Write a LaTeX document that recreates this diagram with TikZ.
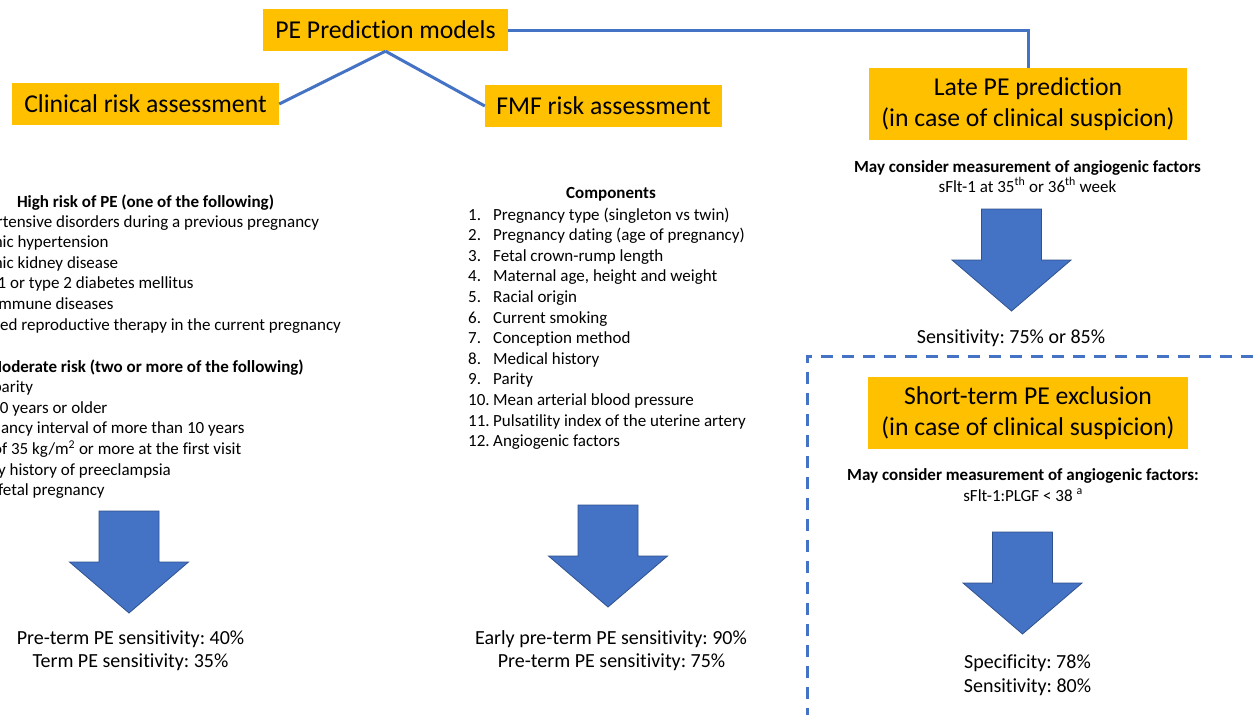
\documentclass[tikz,border=0pt]{standalone}
\usepackage{fontspec}
\setmainfont[Ligatures=NoCommon]{Carlito}
\frenchspacing
\definecolor{boxfill}{HTML}{FFC000}
\definecolor{lineblue}{HTML}{4472C4}
\definecolor{arrowedge}{HTML}{2F528F}
\tikzset{
  titlebox/.style={fill=boxfill, inner sep=0pt, font=\fontsize{25.7}{31}\selectfont, align=center},
  conn/.style={draw=lineblue, line width=3pt},
  body/.style={inner sep=0pt, anchor=base west, font=\fontsize{17}{20.6}\selectfont},
  bodyc/.style={inner sep=0pt, anchor=base, font=\fontsize{17}{20.6}\selectfont},
  head/.style={inner sep=0pt, anchor=base, font=\fontsize{17}{20.6}\selectfont\bfseries},
  result/.style={inner sep=0pt, anchor=base, font=\fontsize{20}{24}\selectfont},
  dashedframe/.style={draw=lineblue, line width=3pt, dash pattern=on 12pt off 9pt},
  blockarrow/.pic={\fill[lineblue, draw=arrowedge, line width=0.8pt]
     (-30,0) -- (30,0) -- (30,51) -- (59.5,51) -- (0,102) -- (-59.5,51) -- (-30,51) -- cycle;}
}
\begin{document}
\begin{tikzpicture}[x=1pt,y=-1pt]
\clip (0,0) rectangle (1254,715);
\fill[white] (0,0) rectangle (1254,715);

% title boxes
\node[titlebox, minimum width=245pt, minimum height=42pt] (pe) at (385.5,30) {PE Prediction models};
\node[titlebox, minimum width=267pt, minimum height=42pt] (clin) at (145.5,104) {Clinical risk assessment};
\node[titlebox, minimum width=237pt, minimum height=42pt] (fmf) at (603.5,106) {FMF risk assessment};
\node[titlebox, minimum width=318pt, minimum height=72pt] (late) at (1028,104) {Late PE prediction\\(in case of clinical suspicion)};
\node[titlebox, minimum width=320pt, minimum height=72pt] (short) at (1028,413) {Short-term PE exclusion\\(in case of clinical suspicion)};

% connectors
\draw[conn] (pe.south) -- (clin.east);
\draw[conn] (pe.south) -- (fmf.west);
\draw[conn] (pe.east) -- (pe.east -| late.north) -- (late.north);

% dashed frame
\coordinate (fa) at (807,720);
\coordinate (fb) at (807,356);
\coordinate (fc) at (1260,356);
\draw[dashedframe] (fa) -- (fb) -- (fc);

% clinical column
\node[head] (hrh) at (145.5,207) {High risk of PE (one of the following)};
\foreach \t [count=\i] in {Hypertensive disorders during a previous pregnancy, Chronic hypertension, Chronic kidney disease, Type 1 or type 2 diabetes mellitus, Autoimmune diseases, Assisted reproductive therapy in the current pregnancy}
  \node[body] (hr\i) at (-39,{227+20.6*(\i-1)}) {\t};
\node[head] (mrh) at (145.5,372) {Moderate risk (two or more of the following)};
\foreach \t [count=\i] in {Nulliparity, Age 40 years or older, Pregnancy interval of more than 10 years, BMI of 35 kg/m\textsuperscript{2} or more at the first visit, Family history of preeclampsia, Multifetal pregnancy}
  \node[body] (mr\i) at (-39,{392.6+20.6*(\i-1)}) {\t};
\pic at (129,511) {blockarrow};
\node[result] (cr1) at (130.5,644) {Pre-term PE sensitivity: 40\%};
\node[result] (cr2) at (130.5,667) {Term PE sensitivity: 35\%};

% FMF column
\node[head] (comp) at (611,198) {Components};
\foreach \t [count=\i] in {Pregnancy type (singleton vs twin), Pregnancy dating (age of pregnancy), Fetal crown-rump length, {Maternal age, height and weight}, Racial origin, Current smoking, Conception method, Medical history, Parity, Mean arterial blood pressure, Pulsatility index of the uterine artery, Angiogenic factors}
  \node[body] (fm\i) at (468,{220+20.6*(\i-1)}) {\makebox[25pt][l]{\i.}\t};
\pic at (608,505) {blockarrow};
\node[result] (fr1) at (611,644) {Early pre-term PE sensitivity: 90\%};
\node[result] (fr2) at (611.5,667) {Pre-term PE sensitivity: 75\%};

% late PE column
\node[head] (may1) at (1027.5,172) {May consider measurement of angiogenic factors};
\node[bodyc] (sf1) at (1027.5,192) {sFlt-1 at 35\textsuperscript{th} or 36\textsuperscript{th} week};
\pic at (1011.5,209) {blockarrow};
\node[result] (ls1) at (1011,343) {Sensitivity: 75\% or 85\%};

% short-term column
\node[head] (may2) at (1023,480) {May consider measurement of angiogenic factors:};
\node[bodyc] (sf2) at (1023,501) {sFlt-1:PLGF < 38 \textsuperscript{a}};
\pic at (1022.5,532) {blockarrow};
\node[result] (ss1) at (1027.5,668) {Specificity: 78\%};
\node[result] (ss2) at (1027.5,692) {Sensitivity: 80\%};
\end{tikzpicture}
\end{document}
